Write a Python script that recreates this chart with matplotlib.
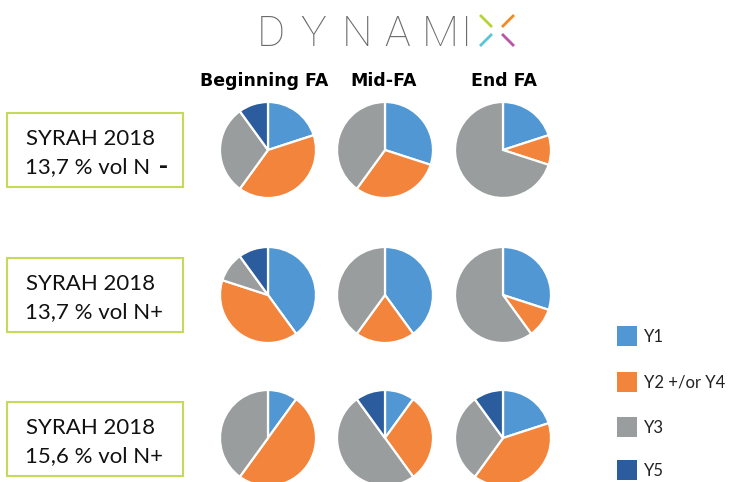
import numpy as np
import matplotlib
matplotlib.use('Agg')
import matplotlib.pyplot as plt
from matplotlib.patches import Rectangle

plt.rcParams['font.family'] = ['Lato', 'DejaVu Sans']

# shares of each yeast type (%), order: Y1, Y2 +/or Y4, Y3, Y5
categories = ['Y1', 'Y2 +/or Y4', 'Y3', 'Y5']
colors = ['#5097d3', '#f3843b', '#9a9d9e', '#2b5d9e']
stages = ['Beginning FA', 'Mid-FA', 'End FA']
row_title = ['SYRAH 2018', 'SYRAH 2018', 'SYRAH 2018']
row_sub = ['13,7 % vol N', '13,7 % vol N+', '15,6 % vol N+']

syrah_137_nminus = [[20, 40, 30, 10], [30, 30, 40, 0], [20, 10, 70, 0]]
syrah_137_nplus = [[40, 40, 10, 10], [40, 20, 40, 0], [30, 10, 60, 0]]
syrah_156_nplus = [[10, 50, 40, 0], [10, 30, 50, 10], [20, 40, 30, 10]]
rows = [syrah_137_nminus, syrah_137_nplus, syrah_156_nplus]

W, H = 730, 482
fig = plt.figure(figsize=(W / 100, H / 100), dpi=100)
fig.patch.set_facecolor('white')

# background axes in pixel units for the layout
bg = fig.add_axes([0, 0, 1, 1])
bg.set_xlim(0, W)
bg.set_ylim(H, 0)
bg.axis('off')

# logo
grey = '#6b6b6b'
for ch, x in zip('DYNAMI', [271, 313, 357, 397, 440, 467]):
    bg.text(x, 46, ch, fontsize=31, family=['Roboto', 'DejaVu Sans'],
            fontweight='light', color=grey, ha='center', va='baseline')
x_strokes = [((480, 15), (492, 27), '#b5d334'), ((514, 15), (502, 27), '#f08a24'),
             ((480, 46), (492, 34), '#5bc5d8'), ((514, 46), (502, 34), '#b854a6')]
for p0, p1, c in x_strokes:
    bg.plot([p0[0], p1[0]], [p0[1], p1[1]], color=c, lw=2.0, solid_capstyle='butt')

# column headers
pie_x = [268, 385, 503]
header_x = [264, 384, 504]
for x, s in zip(header_x, stages):
    bg.text(x, 86, s, fontsize=12.5, family='DejaVu Sans', fontweight='bold',
            color='black', ha='center', va='baseline')

# row labels in boxes
box_top = [113, 258, 402]
for i, top in enumerate(box_top):
    bg.add_patch(Rectangle((7, top), 176, 74, fill=False, ec='#c5d95a', lw=1.5))
    bg.text(91, top + 32, row_title[i], fontsize=16, color='#111111',
            ha='center', va='baseline')
    if i == 0:
        t = bg.text(88, top + 60, row_sub[i], fontsize=16, color='#111111',
                    ha='center', va='baseline')
        bg.annotate(' -', xy=(1, 0), xycoords=t, fontsize=16, fontweight='black',
                    family='DejaVu Sans', color='#111111', ha='left', va='bottom')
    else:
        bg.text(94, top + 60, row_sub[i], fontsize=16, color='#111111',
                ha='center', va='baseline')

# pies
pie_y = [150, 295, 438]
r = 48
for i, row in enumerate(rows):
    for j, vals in enumerate(row):
        cx, cy = pie_x[j], pie_y[i]
        ax = fig.add_axes([(cx - r) / W, 1 - (cy + r) / H, 2 * r / W, 2 * r / H])
        v = [a for a in vals if a > 0]
        c = [colors[k] for k, a in enumerate(vals) if a > 0]
        ax.pie(v, colors=c, startangle=90, counterclock=False, radius=1,
               wedgeprops=dict(edgecolor='white', linewidth=1.6))
        ax.set_xlim(-1, 1)
        ax.set_ylim(-1, 1)
        ax.axis('off')

# legend
leg_y = [336, 382, 427, 470]
for y, cat, c in zip(leg_y, categories, colors):
    bg.add_patch(Rectangle((617, y - 10), 20, 20, color=c, lw=0))
    bg.text(644, y + 1, cat, fontsize=12, color='#222222', ha='left', va='center')

fig.savefig('out.png', dpi=100)
